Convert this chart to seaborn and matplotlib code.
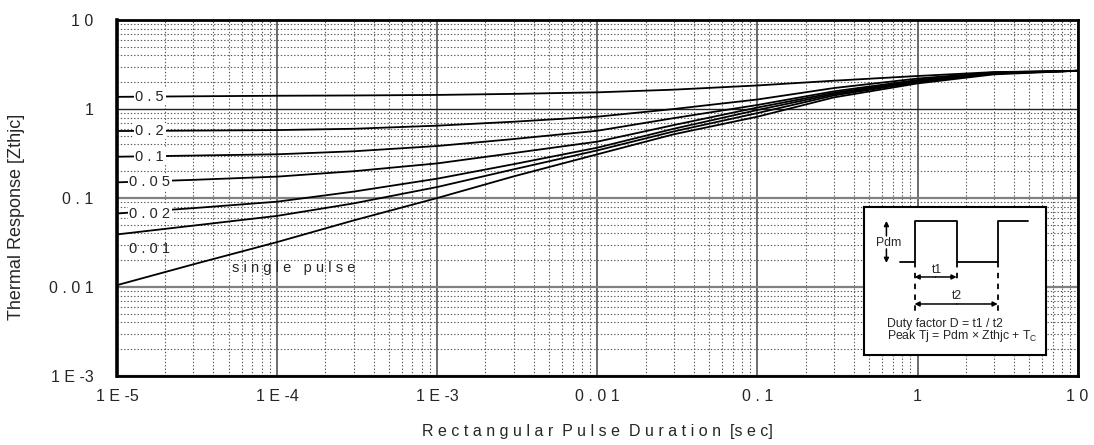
import numpy as np
import pandas as pd
import matplotlib
matplotlib.use("Agg")
import matplotlib.pyplot as plt
import seaborn as sns
from matplotlib.ticker import LogLocator, NullFormatter, FixedLocator

# ---------------- data ----------------
pulse_time = [1e-5, 3e-5, 1e-4, 3e-4, 1e-3, 3e-3, 1e-2, 3e-2, 1e-1, 3e-1, 1, 3, 10]
z_d05 = [1.37, 1.39, 1.41, 1.42, 1.44, 1.48, 1.54, 1.65, 1.84, 2.08, 2.35, 2.60, 2.69]
z_d02 = [0.566, 0.572, 0.58, 0.60, 0.65, 0.72, 0.82, 1.00, 1.28, 1.72, 2.20, 2.58, 2.69]
z_d01 = [0.291, 0.30, 0.31, 0.335, 0.384, 0.46, 0.57, 0.79, 1.11, 1.58, 2.12, 2.55, 2.69]
z_d005 = [0.150, 0.160, 0.174, 0.200, 0.245, 0.32, 0.43, 0.66, 1.04, 1.52, 2.07, 2.53, 2.69]
z_d002 = [0.067, 0.077, 0.091, 0.118, 0.165, 0.24, 0.368, 0.60, 0.975, 1.47, 2.03, 2.52, 2.69]
z_d001 = [0.039, 0.049, 0.063, 0.087, 0.133, 0.21, 0.343, 0.56, 0.90, 1.42, 2.00, 2.50, 2.69]
z_single = [0.0105, 0.018, 0.032, 0.056, 0.10, 0.175, 0.31, 0.52, 0.82, 1.35, 1.94, 2.45, 2.69]

series_names = ["0.5", "0.2", "0.1", "0.05", "0.02", "0.01", "single pulse"]
series_values = [z_d05, z_d02, z_d01, z_d005, z_d002, z_d001, z_single]
curve_labels = ["0 . 5", "0 . 2", "0 . 1", "0 . 0 5", "0 . 0 2", "0 . 0 1", "s i n g l e   p u l s e"]

x_ticks = [1e-5, 1e-4, 1e-3, 1e-2, 1e-1, 1, 10]
x_tick_labels = ["1 E -5", "1 E -4", "1 E -3", "0 . 0 1", "0 . 1", "1", "1 0"]
y_ticks = [1e-3, 1e-2, 1e-1, 1, 10]
y_tick_labels = ["1 E -3", "0 . 0 1", "0 . 1", "1", "1 0"]
x_title = "R e c t a n g u l a r  P u l s e  D u r a t i o n  [s e c]"
y_title = "Thermal Response [Zthjc]"

rows = []
for name, vals in zip(series_names, series_values):
    for t, z in zip(pulse_time, vals):
        rows.append({"t": t, "z": z, "D": name})
df = pd.DataFrame(rows)

# ---------------- style ----------------
sns.set_style("white")
plt.rcParams["font.family"] = ["Liberation Sans", "DejaVu Sans"]
plt.rcParams["mathtext.fontset"] = "custom"
plt.rcParams["mathtext.rm"] = "Liberation Sans"
plt.rcParams["mathtext.it"] = "Liberation Sans:italic"

fig = plt.figure(figsize=(10.94, 4.45), dpi=100)
ax = fig.add_axes([0.107, 0.155, 0.878, 0.800])

palette = {n: "black" for n in series_names}
sns.lineplot(data=df, x="t", y="z", hue="D", palette=palette, legend=False,
             ax=ax, lw=1.3, zorder=3)

ax.set_xscale("log")
ax.set_yscale("log")
ax.set_xlim(1e-5, 10)
ax.set_ylim(1e-3, 10)

ax.xaxis.set_major_locator(FixedLocator(x_ticks))
ax.set_xticklabels(x_tick_labels)
ax.yaxis.set_major_locator(FixedLocator(y_ticks))
ax.set_yticklabels(y_tick_labels)
ax.xaxis.set_minor_locator(LogLocator(base=10, subs=range(2, 10), numticks=20))
ax.yaxis.set_minor_locator(LogLocator(base=10, subs=range(2, 10), numticks=20))
ax.xaxis.set_minor_formatter(NullFormatter())
ax.yaxis.set_minor_formatter(NullFormatter())
ax.tick_params(axis="both", which="both", length=0)
ax.tick_params(axis="x", which="major", pad=9, labelsize=11.5)
ax.tick_params(axis="y", which="major", pad=17, labelsize=11.5)

# grid
ax.grid(False)
ax.xaxis.grid(True, which="major", color="#444444", lw=1.1, ls="-")
ax.yaxis.grid(True, which="major", color="#808080", lw=1.6, ls="-")
ax.grid(True, which="minor", color="#555555", lw=0.8, ls=(0, (1.2, 1.8)))
ax.set_axisbelow(True)
# the gridline at 1 is drawn thin and dark in the reference
one_tick = ax.yaxis.get_major_ticks()[y_ticks.index(1)]
one_tick.gridline.set_color("#222222")
one_tick.gridline.set_linewidth(1.0)

for s in ax.spines.values():
    s.set_visible(True)
    s.set_color("black")
    s.set_linewidth(2.0)
ax.spines["left"].set_linewidth(2.6)

ax.set_xlabel(x_title, fontsize=11.5)
ax.xaxis.set_label_coords(0.5, -0.135)
ax.set_ylabel(y_title, fontsize=13)
ax.yaxis.set_label_coords(-0.096, 0.447)

# curve labels
label_x = 1.6e-5
for lab, vals in zip(curve_labels[:5], series_values[:5]):
    ax.text(label_x, vals[0], lab, fontsize=10.5, ha="center", va="center",
            bbox=dict(fc="white", ec="none", pad=1.0), zorder=4)
ax.text(label_x, 0.0267, curve_labels[5], fontsize=10.5, ha="center", va="center", zorder=4)
ax.text(1.26e-4, 0.0163, curve_labels[6], fontsize=10.5, ha="center", va="center", zorder=4)

# ---------------- inset diagram ----------------
iax = ax.inset_axes([0.778, 0.059, 0.189, 0.416])
iax.set_zorder(5)
iax.set_xlim(865, 1046)
iax.set_ylim(355, 207)
iax.set_xticks([])
iax.set_yticks([])
iax.set_facecolor("white")
for s in iax.spines.values():
    s.set_visible(True)
    s.set_color("black")
    s.set_linewidth(1.5)

wx = [901, 915, 915, 957, 957, 998, 998, 1028]
wy = [262, 262, 221, 221, 262, 262, 221, 221]
iax.plot(wx, wy, color="black", lw=1.3)
for xv, y0, y1 in [(915, 262, 312), (957, 262, 281), (998, 262, 312)]:
    iax.plot([xv, xv], [y0, y1], color="black", lw=1.3, ls=(0, (3, 3)))
ap = dict(arrowstyle="-|>", color="black", lw=1.1, mutation_scale=7, shrinkA=0, shrinkB=0)
iax.annotate("", xy=(915, 277), xytext=(936, 277), arrowprops=ap)
iax.annotate("", xy=(957, 277), xytext=(936, 277), arrowprops=ap)
iax.annotate("", xy=(915, 304), xytext=(957, 304), arrowprops=ap)
iax.annotate("", xy=(998, 304), xytext=(957, 304), arrowprops=ap)
iax.annotate("", xy=(887, 221), xytext=(887, 236), arrowprops=ap)
iax.annotate("", xy=(887, 263), xytext=(887, 249), arrowprops=ap)
fs = 8.8
iax.text(889, 243, "Pdm", fontsize=fs, ha="center", va="center")
iax.text(937, 270, "t1", fontsize=fs, ha="center", va="center")
iax.text(957, 296, "t2", fontsize=fs, ha="center", va="center")
iax.text(888, 324, "Duty factor D = t1 / t2", fontsize=fs, ha="left", va="center")
iax.text(888, 336, "Peak Tj = Pdm \u00d7 Zthjc + T$_\\mathrm{C}$", fontsize=fs, ha="left", va="center")

fig.savefig("out.png", dpi=100)
